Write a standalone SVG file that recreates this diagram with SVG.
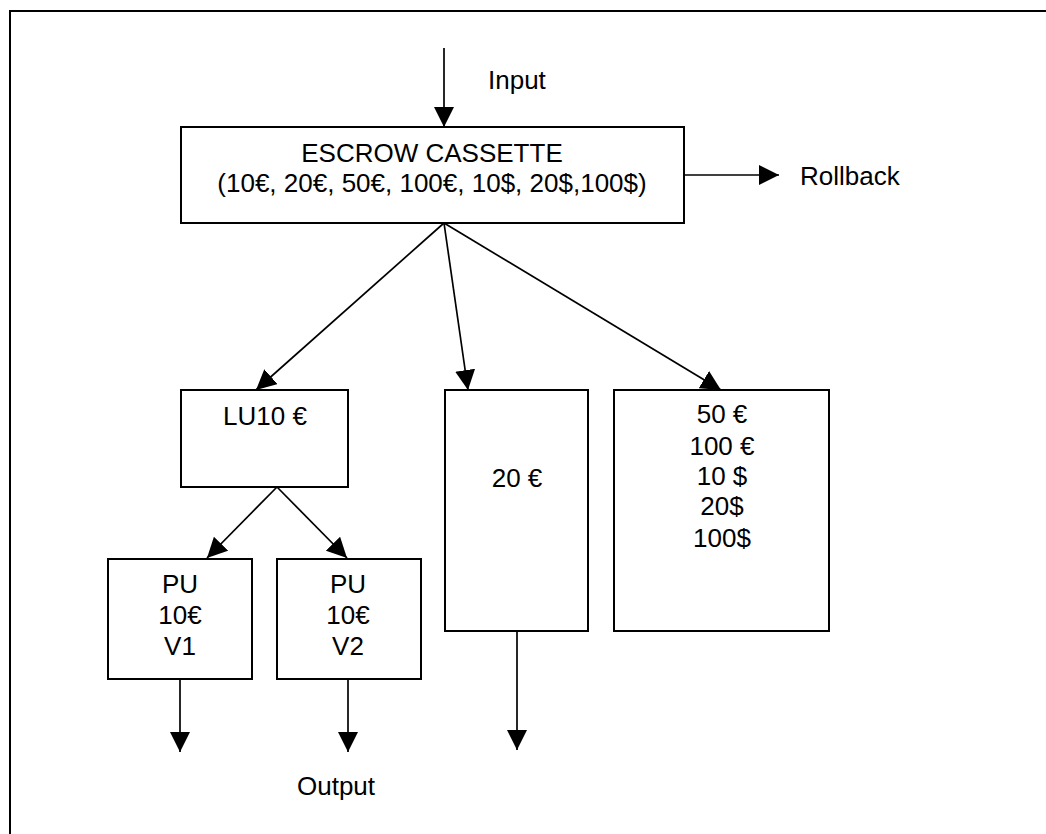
<svg xmlns="http://www.w3.org/2000/svg" width="1046" height="834" viewBox="0 0 1046 834">
<defs>
<style>
.box{fill:#fff;stroke:#000;stroke-width:2}
.ln{stroke:#000;stroke-width:1.7;fill:none;marker-end:url(#ah)}
text{font-family:"Liberation Sans",Arial,sans-serif;font-size:26px;fill:#000}
.c{text-anchor:middle}
</style>
<marker id="ah" markerUnits="userSpaceOnUse" markerWidth="20" markerHeight="20" refX="20" refY="10" orient="auto" viewBox="0 0 20 20">
<path d="M0,0 L20,10 L0,20 z" fill="#000"/>
</marker>
</defs>
<rect width="1046" height="834" fill="#fff"/>
<path d="M10,834 V11 H1046" fill="none" stroke="#000" stroke-width="2"/>
<g id="connectors">
<line class="ln" x1="444" y1="48" x2="444" y2="127"/>
<line class="ln" x1="684" y1="175" x2="779" y2="175"/>
<line class="ln" x1="444" y1="223" x2="256" y2="390"/>
<line class="ln" x1="444" y1="223" x2="468" y2="390"/>
<line class="ln" x1="444" y1="223" x2="721" y2="390"/>
<line class="ln" x1="277" y1="487" x2="207" y2="558"/>
<line class="ln" x1="277" y1="487" x2="347" y2="558"/>
<line class="ln" x1="180" y1="679" x2="180" y2="752"/>
<line class="ln" x1="348" y1="679" x2="348" y2="752"/>
<line class="ln" x1="517" y1="631" x2="517" y2="750"/>
</g>
<g id="labels">
<text x="488" y="89">Input</text>
<text x="800" y="185">Rollback</text>
<text x="297" y="795">Output</text>
</g>
<g id="escrow">
<rect class="box" x="181" y="127" width="503" height="96"/>
<text class="c" x="432" y="162">ESCROW CASSETTE</text>
<text class="c" x="432" y="192">(10€, 20€, 50€, 100€, 10$, 20$,100$)</text>
</g>
<g id="lu10">
<rect class="box" x="181" y="390" width="167" height="97"/>
<text class="c" x="265" y="425">LU10 €</text>
</g>
<g id="pu-v1">
<rect class="box" x="108" y="559" width="144" height="120"/>
<text class="c" x="180" y="593">PU</text>
<text class="c" x="180" y="624">10€</text>
<text class="c" x="180" y="655">V1</text>
</g>
<g id="pu-v2">
<rect class="box" x="277" y="559" width="144" height="120"/>
<text class="c" x="348" y="593">PU</text>
<text class="c" x="348" y="624">10€</text>
<text class="c" x="348" y="655">V2</text>
</g>
<g id="eur20">
<rect class="box" x="445" y="390" width="143" height="241"/>
<text class="c" x="517" y="487">20 €</text>
</g>
<g id="others">
<rect class="box" x="614" y="390" width="215" height="241"/>
<text class="c" x="722" y="423">50 €</text>
<text class="c" x="722" y="455">100 €</text>
<text class="c" x="722" y="485">10 $</text>
<text class="c" x="722" y="515">20$</text>
<text class="c" x="722" y="547">100$</text>
</g>
</svg>
